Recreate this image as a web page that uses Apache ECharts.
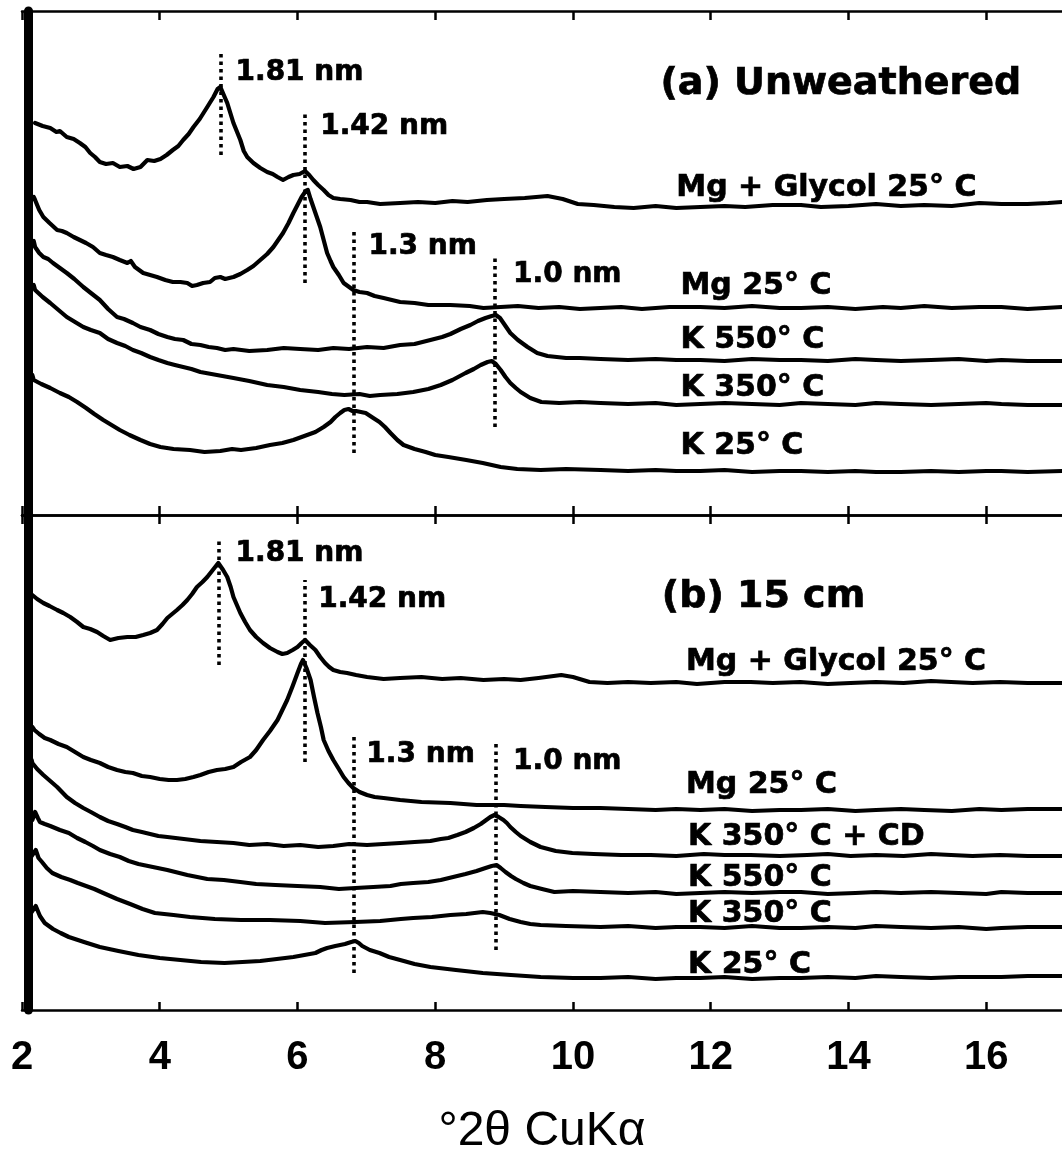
<!DOCTYPE html>
<html>
<head>
<meta charset="utf-8">
<title>XRD patterns - unweathered and 15 cm</title>
<script src="https://cdn.jsdelivr.net/npm/echarts@6/dist/echarts.min.js"></script>
<style>
  html, body { margin: 0; padding: 0; background: #fff; }
  #main { width: 1062px; height: 1167px; }
</style>
</head>
<body>
<div id="main"></div>
<script>
// x range in degrees 2-theta
const thetaMin = 2;
const thetaMax = 17.1;
const tickStep = 2;
const tickValues = [2, 4, 6, 8, 10, 12, 14, 16];

// ---- (a) Unweathered : [2theta, offset intensity (a.u.)] ----
const aMgGlycol = [[2.19,392],[2.30,389],[2.41,387],[2.50,383],[2.55,384],[2.65,378],[2.75,376],[2.84,372],[2.92,368],[2.99,362],[3.06,358],[3.13,353],[3.22,351],[3.32,352],[3.42,348],[3.53,349],[3.62,346],[3.72,348],[3.82,355],[3.92,354],[4.01,356],[4.10,360],[4.19,365],[4.27,369],[4.34,375],[4.42,381],[4.49,388],[4.58,396],[4.69,408],[4.78,418],[4.84,426],[4.88,428],[4.93,420],[4.98,412],[5.07,392],[5.17,375],[5.22,364],[5.27,358],[5.36,352],[5.46,347],[5.56,343],[5.64,341],[5.71,338],[5.79,335],[5.87,338],[5.94,340],[6.03,341],[6.11,344],[6.17,340],[6.23,335],[6.30,330],[6.38,325],[6.45,320],[6.52,317],[6.62,316],[6.77,315],[6.90,313],[7.01,313],[7.20,311],[7.49,312],[7.75,313],[8.0,312],[8.25,314],[8.47,313],[8.75,315],[9.0,316],[9.3,317],[9.63,319],[9.85,316],[10.07,311],[10.3,310],[10.6,308],[10.88,307],[11.2,309],[11.5,307],[11.85,308],[12.2,309],[12.5,308],[12.9,310],[13.31,310],[13.6,308],[14.0,309],[14.4,311],[14.76,309],[15.1,310],[15.5,309],[15.9,312],[16.22,311],[16.6,311],[16.9,312],[17.1,313]];
const aMg25 = [[2.17,318],[2.19,315],[2.25,305],[2.31,298],[2.40,292],[2.51,285],[2.58,284],[2.65,282],[2.75,278],[2.84,275],[2.93,272],[3.03,268],[3.13,262],[3.22,260],[3.32,258],[3.42,255],[3.53,252],[3.58,254],[3.64,248],[3.76,242],[3.86,240],[3.96,238],[4.08,235],[4.19,233],[4.30,233],[4.40,232],[4.47,229],[4.54,230],[4.63,232],[4.73,233],[4.80,237],[4.88,238],[4.95,236],[5.07,238],[5.17,241],[5.27,245],[5.36,249],[5.46,255],[5.56,261],[5.65,268],[5.72,275],[5.79,282],[5.87,292],[5.94,302],[6.00,310],[6.06,318],[6.12,324],[6.15,325],[6.19,316],[6.23,308],[6.28,298],[6.33,288],[6.38,275],[6.43,262],[6.48,254],[6.52,248],[6.60,240],[6.67,232],[6.75,228],[6.81,225],[6.90,223],[7.01,222],[7.12,219],[7.25,217],[7.37,215],[7.49,213],[7.7,212],[7.9,210],[8.22,210],[8.5,209],[8.7,207],[8.95,208],[9.2,209],[9.5,207],[9.8,208],[10.1,206],[10.4,207],[10.7,208],[11.0,206],[11.4,208],[11.85,208],[12.2,207],[12.6,209],[13.0,207],[13.31,207],[13.7,208],[14.1,206],[14.5,208],[14.76,207],[15.1,209],[15.5,207],[15.9,208],[16.22,208],[16.6,206],[17.1,208]];
const aK550 = [[2.17,274],[2.19,268],[2.25,262],[2.31,258],[2.38,256],[2.45,252],[2.55,247],[2.65,242],[2.76,236],[2.89,228],[3.0,222],[3.13,215],[3.25,206],[3.38,198],[3.48,196],[3.61,192],[3.72,188],[3.86,185],[3.98,181],[4.11,178],[4.22,176],[4.34,175],[4.46,171],[4.59,170],[4.71,168],[4.83,167],[4.95,165],[5.07,166],[5.3,164],[5.56,165],[5.8,167],[6.04,166],[6.3,165],[6.52,167],[6.75,166],[7.01,168],[7.25,167],[7.49,170],[7.7,171],[7.93,175],[8.1,178],[8.22,181],[8.37,186],[8.51,190],[8.62,194],[8.73,197],[8.82,199],[8.88,200],[8.94,197],[8.99,192],[9.04,187],[9.09,182],[9.2,175],[9.34,168],[9.48,162],[9.63,159],[9.9,157],[10.1,157],[10.4,156],[10.8,155],[11.2,156],[11.5,155],[11.85,155],[12.2,154],[12.6,156],[13.0,155],[13.31,155],[13.7,154],[14.1,156],[14.4,155],[14.76,154],[15.2,155],[15.6,156],[16.0,154],[16.22,155],[16.6,154],[17.1,154]];
const aK350 = [[2.17,230],[2.19,225],[2.30,218],[2.41,212],[2.53,205],[2.65,198],[2.77,193],[2.89,188],[3.0,185],[3.13,182],[3.25,176],[3.38,172],[3.5,169],[3.61,165],[3.73,162],[3.86,158],[3.98,155],[4.11,152],[4.22,150],[4.34,148],[4.46,146],[4.59,143],[4.83,140],[5.07,137],[5.3,134],[5.56,130],[5.8,128],[6.04,125],[6.3,123],[6.5,121],[6.68,120],[6.9,121],[7.05,119],[7.20,120],[7.45,121],[7.68,123],[7.9,126],[8.08,130],[8.25,135],[8.44,142],[8.56,146],[8.66,150],[8.76,153],[8.82,154],[8.88,151],[8.95,145],[9.02,138],[9.09,132],[9.17,127],[9.24,123],[9.38,117],[9.54,113],[9.8,112],[10.1,113],[10.4,112],[10.8,111],[11.2,112],[11.5,110],[11.85,111],[12.2,112],[12.6,111],[13.0,110],[13.31,112],[13.7,111],[14.1,110],[14.4,112],[14.76,111],[15.2,110],[15.6,111],[16.0,112],[16.22,111],[16.6,110],[17.1,110]];
const aK25 = [[2.15,140],[2.17,135],[2.28,131],[2.41,127],[2.55,122],[2.68,118],[2.80,113],[2.93,107],[3.05,101],[3.18,95],[3.30,90],[3.42,85],[3.56,80],[3.72,75],[3.86,71],[4.01,68],[4.2,66],[4.44,65],[4.65,63],[4.88,64],[5.05,66],[5.18,65],[5.4,67],[5.60,70],[5.78,72],[5.94,75],[6.10,79],[6.26,83],[6.38,88],[6.48,93],[6.55,98],[6.62,102],[6.68,105],[6.74,106],[6.80,104],[6.85,104],[6.92,103],[6.99,102],[7.10,97],[7.19,93],[7.27,88],[7.35,82],[7.45,75],[7.54,70],[7.7,66],[7.86,63],[8.0,60],[8.19,58],[8.45,55],[8.69,52],[8.95,48],[9.19,46],[9.53,45],[9.9,46],[10.4,45],[10.8,44],[11.2,45],[11.5,44],[11.85,44],[12.2,45],[12.6,43],[13.0,44],[13.31,44],[13.7,43],[14.1,44],[14.4,43],[14.76,43],[15.2,44],[15.6,43],[16.0,44],[16.22,44],[16.6,43],[17.1,44]];

// ---- (b) 15 cm ----
const bMgGlycol = [[2.15,415],[2.22,411],[2.31,407],[2.40,404],[2.51,400],[2.60,397],[2.70,393],[2.80,388],[2.89,383],[2.99,381],[3.09,378],[3.18,374],[3.28,370],[3.40,372],[3.53,373],[3.65,373],[3.76,375],[3.86,377],[3.96,380],[4.04,386],[4.11,392],[4.18,396],[4.25,400],[4.33,405],[4.40,410],[4.47,416],[4.54,423],[4.62,428],[4.69,433],[4.77,440],[4.85,447],[4.92,440],[4.98,433],[5.03,423],[5.07,413],[5.12,405],[5.17,397],[5.24,388],[5.31,380],[5.40,373],[5.50,367],[5.60,362],[5.71,358],[5.78,356],[5.85,357],[5.93,360],[6.0,363],[6.06,367],[6.11,370],[6.18,365],[6.26,360],[6.33,353],[6.40,347],[6.46,343],[6.52,340],[6.62,338],[6.72,337],[6.85,335],[7.01,333],[7.25,331],[7.49,332],[7.8,333],[8.1,331],[8.37,332],[8.7,330],[9.0,331],[9.24,330],[9.5,332],[9.83,335],[10.0,333],[10.24,328],[10.5,327],[10.8,328],[11.13,327],[11.5,328],[11.8,326],[12.2,328],[12.58,328],[12.9,327],[13.3,328],[13.7,326],[14.03,327],[14.4,328],[14.8,327],[15.2,329],[15.49,328],[15.8,327],[16.2,328],[16.6,327],[17.1,327]];
const bMg25 = [[2.15,283],[2.18,280],[2.25,276],[2.33,272],[2.41,270],[2.53,266],[2.65,263],[2.77,258],[2.89,253],[3.0,250],[3.13,247],[3.25,243],[3.38,240],[3.50,238],[3.61,237],[3.74,234],[3.86,233],[4.0,231],[4.13,230],[4.25,230],[4.37,231],[4.49,233],[4.59,235],[4.71,238],[4.83,240],[4.95,241],[5.07,243],[5.18,248],[5.31,253],[5.40,260],[5.50,270],[5.60,279],[5.71,290],[5.78,300],[5.85,310],[5.93,324],[6.0,337],[6.05,346],[6.08,350],[6.13,342],[6.19,330],[6.24,313],[6.29,297],[6.34,283],[6.38,270],[6.45,259],[6.52,250],[6.60,241],[6.67,233],[6.74,227],[6.81,222],[6.90,218],[7.01,215],[7.12,213],[7.25,212],[7.37,211],[7.49,210],[7.8,208],[8.22,207],[8.6,205],[9.0,205],[9.24,204],[9.6,203],[10.0,202],[10.4,202],[10.8,201],[11.2,200],[11.5,201],[11.85,200],[12.2,201],[12.6,199],[13.0,200],[13.31,200],[13.7,201],[14.1,199],[14.4,200],[14.76,201],[15.1,200],[15.5,199],[15.9,201],[16.22,200],[16.6,201],[17.1,201]];
const bK350CD = [[2.14,250],[2.15,247],[2.22,241],[2.31,235],[2.41,229],[2.51,223],[2.58,218],[2.65,213],[2.77,207],[2.89,202],[3.0,198],[3.13,193],[3.25,189],[3.38,186],[3.5,183],[3.61,180],[3.74,178],[3.86,176],[3.98,174],[4.11,173],[4.35,171],[4.59,169],[4.83,168],[5.07,167],[5.3,165],[5.56,166],[5.8,164],[6.04,165],[6.3,163],[6.52,164],[6.75,166],[7.01,165],[7.25,166],[7.49,167],[7.7,168],[7.93,169],[8.08,171],[8.19,172],[8.32,175],[8.44,178],[8.56,182],[8.66,186],[8.74,190],[8.80,193],[8.86,195],[8.92,193],[8.99,190],[9.04,187],[9.09,183],[9.17,178],[9.24,174],[9.38,168],[9.53,163],[9.75,159],[9.99,157],[10.3,156],[10.7,155],[11.13,155],[11.5,154],[11.9,156],[12.2,155],[12.58,155],[13.0,154],[13.4,155],[13.7,156],[14.03,154],[14.4,155],[14.8,154],[15.2,156],[15.49,155],[15.8,154],[16.2,155],[16.6,154],[17.1,154]];
const bK550 = [[2.15,190],[2.19,198],[2.23,192],[2.26,188],[2.33,186],[2.41,184],[2.55,180],[2.68,177],[2.80,172],[2.92,168],[3.03,164],[3.13,160],[3.28,156],[3.42,153],[3.55,149],[3.69,146],[3.9,143],[4.11,140],[4.4,135],[4.69,131],[4.93,130],[5.17,128],[5.4,126],[5.68,125],[6.0,124],[6.33,123],[6.6,121],[6.84,122],[7.1,123],[7.35,124],[7.50,126],[7.68,127],[7.9,128],[8.08,130],[8.26,133],[8.44,136],[8.60,139],[8.73,142],[8.82,144],[8.89,145],[8.95,142],[9.02,138],[9.10,134],[9.17,131],[9.28,127],[9.38,124],[9.55,121],[9.73,118],[10.0,119],[10.4,118],[10.8,117],[11.2,118],[11.5,116],[11.85,117],[12.2,118],[12.6,117],[13.0,118],[13.31,118],[13.7,116],[14.1,117],[14.4,118],[14.76,117],[15.2,118],[15.6,117],[16.0,116],[16.22,118],[16.6,117],[17.1,117]];
const bK350 = [[2.13,153],[2.20,160],[2.24,152],[2.29,148],[2.36,142],[2.44,137],[2.57,133],[2.70,130],[2.81,127],[2.93,124],[3.05,121],[3.18,117],[3.38,111],[3.57,106],[3.75,101],[3.93,97],[4.2,95],[4.44,93],[4.8,91],[5.18,90],[5.6,90],[6.04,89],[6.4,87],[6.84,88],[7.2,89],[7.5,91],[7.68,92],[7.95,93],[8.22,95],[8.45,96],[8.69,98],[8.80,97],[8.93,95],[9.08,91],[9.24,88],[9.38,86],[9.53,85],[9.9,84],[10.4,83],[10.8,84],[11.2,82],[11.5,83],[11.85,83],[12.2,82],[12.6,84],[13.0,82],[13.31,82],[13.7,83],[14.1,82],[14.4,84],[14.76,83],[15.2,82],[15.6,83],[16.0,81],[16.22,82],[16.6,83],[17.1,83]];
const bK25 = [[2.13,97],[2.20,104],[2.26,94],[2.33,87],[2.45,81],[2.56,77],[2.68,73],[2.90,68],[3.13,63],[3.40,59],[3.69,55],[4.0,52],[4.30,50],[4.6,48],[4.94,47],[5.2,48],[5.46,49],[5.7,51],[5.94,53],[6.10,55],[6.26,57],[6.35,60],[6.43,62],[6.55,64],[6.69,66],[6.78,68],[6.84,69],[6.89,67],[6.94,64],[7.05,60],[7.19,57],[7.33,53],[7.49,50],[7.7,46],[7.93,43],[8.3,40],[8.69,37],[9.1,35],[9.53,33],[10.0,32],[10.4,32],[10.8,33],[11.2,31],[11.5,32],[11.85,32],[12.2,33],[12.6,31],[13.0,32],[13.31,32],[13.7,33],[14.1,32],[14.4,34],[14.76,33],[15.2,32],[15.6,33],[16.0,33],[16.22,33],[16.6,34],[17.1,34]];

// trace names per panel (top to bottom)
const namesA = ['Mg + Glycol 25° C', 'Mg 25° C', 'K 550° C', 'K 350° C', 'K 25° C'];
const namesB = ['Mg + Glycol 25° C', 'Mg 25° C', 'K 350° C + CD', 'K 550° C', 'K 350° C', 'K 25° C'];

// d-spacing markers and their 2theta positions
const peakNames = ['1.81 nm', '1.42 nm', '1.3 nm', '1.0 nm'];
const peaksA = [4.88, 6.11, 6.82, 8.87];
const peaksB = [4.85, 6.11, 6.82, 8.88];

// --- layout (where the dotted marks and the texts sit) ---
const dotSpanA = [[360, 463], [232, 403], [62, 285], [88, 260]];
const dotSpanB = [[345, 472], [248, 430], [37, 273], [60, 268]];
const peakTextA = [[5.10, 442], [6.33, 388], [7.03, 268], [9.13, 240]];
const peakTextB = [[5.10, 456], [6.30, 410], [7.00, 255], [9.13, 248]];
const nameSpotA = [[11.50, 327], [11.56, 229], [11.56, 175], [11.56, 127], [11.56, 69]];
const nameSpotB = [[11.64, 348], [11.64, 225], [11.67, 173], [11.67, 132], [11.67, 96], [11.67, 45]];
const titleA = { text: '(a) Unweathered', at: [11.27, 431] };
const titleB = { text: '(b) 15 cm', at: [11.29, 413] };

const tracesA = [aMgGlycol, aMg25, aK550, aK350, aK25];
const tracesB = [bMgGlycol, bMg25, bK350CD, bK550, bK350, bK25];

const INK = '#000';
const NOTE_FONT = 'DejaVu Sans';
const AXIS_FONT = 'Liberation Sans';

function trace(data, xi, yi, name) {
  return {
    name: name, type: 'line', xAxisIndex: xi, yAxisIndex: yi,
    data: data, showSymbol: false, symbol: 'none', silent: true,
    lineStyle: { color: INK, width: 4.2, join: 'round', cap: 'round' }, z: 3
  };
}

function textStyle(size) {
  return {
    show: true, position: 'right', distance: 0, color: INK, fontSize: size,
    fontFamily: NOTE_FONT, fontWeight: 'bold',
    textBorderColor: INK, textBorderWidth: 0.7
  };
}

function notes(xi, yi, items, peaks, spans) {
  return {
    type: 'scatter', xAxisIndex: xi, yAxisIndex: yi, symbolSize: 0, silent: true, z: 5,
    itemStyle: { opacity: 1 },
    data: items,
    label: Object.assign(textStyle(30), { formatter: p => p.data.text }),
    markLine: {
      silent: true, symbol: ['none', 'none'], animation: false,
      label: { show: false },
      lineStyle: { color: INK, width: 3.6, type: [3.5, 4], opacity: 1 },
      data: peaks.map((p, i) => [{ coord: [p, spans[i][0]] }, { coord: [p, spans[i][1]] }])
    }
  };
}

function noteItems(title, names, spots, peakSpots) {
  const out = [];
  out.push({ value: title.at, text: title.text, label: textStyle(38) });
  names.forEach((n, i) => out.push({ value: spots[i], text: n, label: textStyle(30) }));
  peakNames.forEach((n, i) => out.push({ value: peakSpots[i], text: n, label: textStyle(28) }));
  return out;
}

function xAxis(gi, pos, extra) {
  return Object.assign({
    type: 'value', gridIndex: gi, position: pos,
    min: thetaMin, max: thetaMax, interval: tickStep,
    axisLine: { show: true, onZero: false, lineStyle: { color: INK, width: 2.5 } },
    axisTick: { show: true, inside: true, length: 9, customValues: tickValues, lineStyle: { color: INK, width: 2.5 } },
    axisLabel: { show: false },
    splitLine: { show: false }
  }, extra || {});
}

function yAxis(gi, max) {
  return {
    type: 'value', gridIndex: gi, min: 0, max: max, offset: -6,
    axisLine: { show: true, onZero: false, lineStyle: { color: INK, width: 9 } },
    axisTick: { show: false }, axisLabel: { show: false }, splitLine: { show: false }
  };
}

const series = [];
tracesA.forEach((d, i) => series.push(trace(d, 0, 0, 'a ' + namesA[i])));
tracesB.forEach((d, i) => series.push(trace(d, 2, 1, 'b ' + namesB[i])));
series.push(notes(0, 0, noteItems(titleA, namesA, nameSpotA, peakTextA), peaksA, dotSpanA));
series.push(notes(2, 1, noteItems(titleB, namesB, nameSpotB, peakTextB), peaksB, dotSpanB));

const chart = echarts.init(document.getElementById('main'), null, { renderer: 'canvas' });
chart.setOption({
  backgroundColor: '#fff',
  animation: false,
  grid: [
    { left: 22, right: 0, top: 11, height: 504 },
    { left: 22, right: 0, top: 515, height: 495 }
  ],
  xAxis: [
    xAxis(0, 'top'),
    xAxis(0, 'bottom'),
    xAxis(1, 'top'),
    xAxis(1, 'bottom', {
      axisTick: { show: true, inside: true, length: 8, customValues: tickValues, lineStyle: { color: INK, width: 2.5 } },
      axisLabel: {
        show: true, margin: 28, color: INK, fontSize: 40, fontWeight: 'bold', fontFamily: AXIS_FONT,
        customValues: tickValues,
        formatter: v => String(v)
      },
      name: '°2θ CuKα', nameLocation: 'middle', nameGap: 98,
      nameTextStyle: { color: INK, fontSize: 48, fontFamily: AXIS_FONT }
    })
  ],
  yAxis: [yAxis(0, 504), yAxis(1, 495)],
  series: series
});
</script>
</body>
</html>
